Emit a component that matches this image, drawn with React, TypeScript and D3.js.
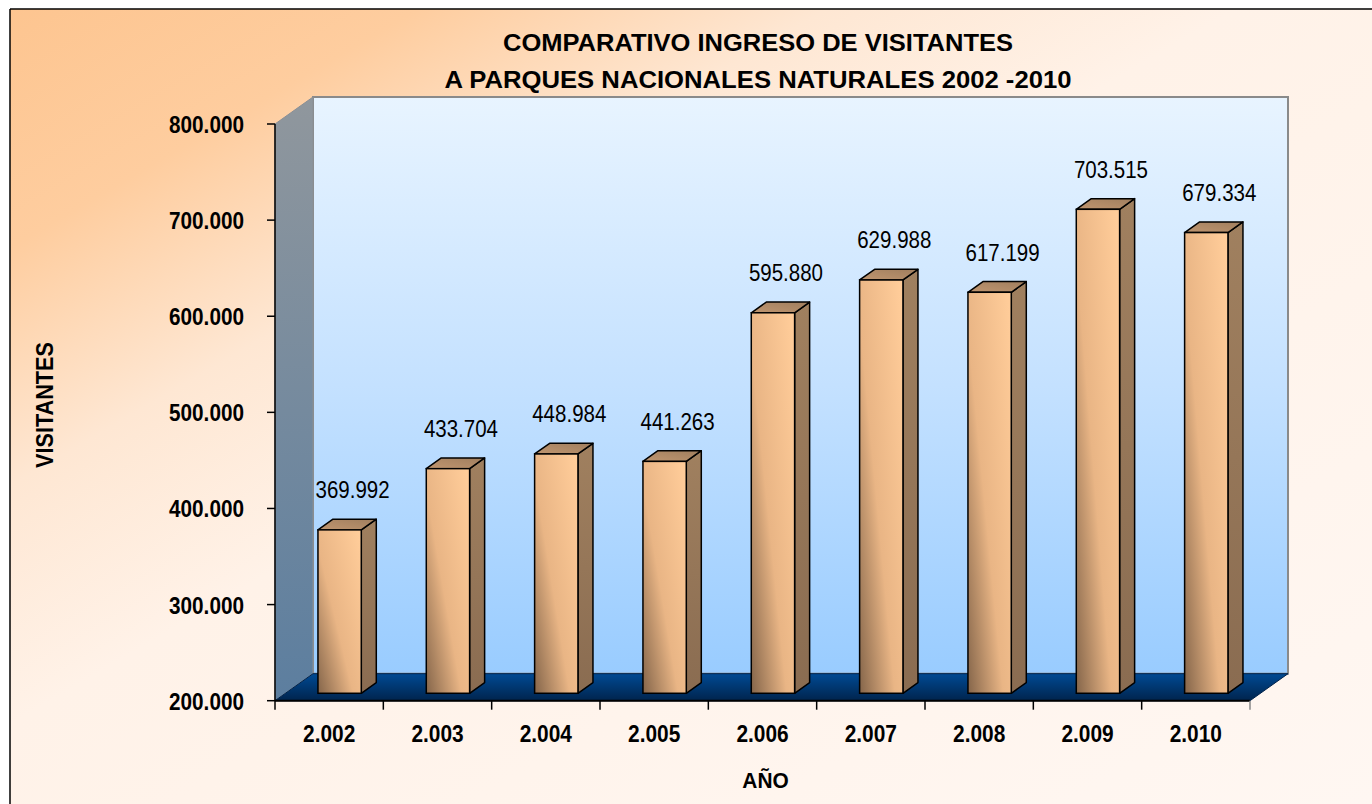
import React from "react";
import * as d3 from "d3";

const years = [2002, 2003, 2004, 2005, 2006, 2007, 2008, 2009, 2010];
const visitors = [369992, 433704, 448984, 441263, 595880, 629988, 617199, 703515, 679334];
const yTicks = [200000, 300000, 400000, 500000, 600000, 700000, 800000];
const titleLines = ["COMPARATIVO INGRESO DE VISITANTES", "A PARQUES NACIONALES NATURALES 2002 -2010"];
const yTitle = "VISITANTES";
const xTitle = "AÑO";

const W = 1372;
const H = 804;

const locale = d3.formatLocale({ decimal: ",", thousands: ".", grouping: [3], currency: ["", ""] });
const fmt = locale.format(",d");

export default function App() {
  // front plane
  const fx0 = 275, fx1 = 1250;
  const fyBot = 700.7, fyTop = 124;
  // depth vector
  const DX = 38, DY = 27;
  const tF = 0.275, tB = 0.67;

  const x = d3.scaleBand<number>().domain(years).range([fx0, fx1]).paddingInner(0.6).paddingOuter(0.3);
  const y = d3.scaleLinear().domain([200000, 800000]).range([fyBot, fyTop]);
  const step = x.step();
  const bw = x.bandwidth();

  const dxF = DX * tF, dyF = DY * tF;
  const ddx = DX * (tB - tF), ddy = DY * (tB - tF);

  const font = "'Liberation Sans', Arial, sans-serif";

  const sideWall = [
    [fx0, fyTop], [fx0 + DX, fyTop - DY], [fx0 + DX, fyBot - DY], [fx0, fyBot],
  ].map((p) => p.join(",")).join(" ");
  const floor = [
    [fx0, fyBot], [fx0 + DX, fyBot - DY], [fx1 + DX, fyBot - DY], [fx1, fyBot],
  ].map((p) => p.join(",")).join(" ");

  const boundaries = d3.range(years.length + 1).map((i) => fx0 + i * step);

  return (
    <svg width={W} height={H} style={{ position: "absolute", left: 0, top: 0 }} xmlns="http://www.w3.org/2000/svg">
      <defs>
        <linearGradient id="bg" x1="0" y1="0" x2="1" y2="1">
          <stop offset="0" stopColor="#fdc590" />
          <stop offset="0.15" stopColor="#fecd9f" />
          <stop offset="0.3" stopColor="#fee7d3" />
          <stop offset="0.45" stopColor="#fff2e8" />
          <stop offset="1" stopColor="#fff7f2" />
        </linearGradient>
        <linearGradient id="wall" x1="0" y1="0" x2="0" y2="1">
          <stop offset="0" stopColor="#e8f4ff" />
          <stop offset="0.5" stopColor="#c4e1ff" />
          <stop offset="1" stopColor="#99ccff" />
        </linearGradient>
        <linearGradient id="side" x1="0" y1="0" x2="0" y2="1">
          <stop offset="0" stopColor="#90979d" />
          <stop offset="1" stopColor="#5c7e9f" />
        </linearGradient>
        <linearGradient id="floor" x1="0" y1="0" x2="0" y2="1">
          <stop offset="0" stopColor="#004a94" />
          <stop offset="1" stopColor="#00244d" />
        </linearGradient>
        <linearGradient id="barFront" x1="0" y1="1" x2="1" y2="0.1">
          <stop offset="0" stopColor="#84654a" />
          <stop offset="0.45" stopColor="#e9b585" />
          <stop offset="1" stopColor="#ffcc99" />
        </linearGradient>
        <linearGradient id="barSide" x1="0" y1="0" x2="0" y2="1">
          <stop offset="0" stopColor="#a0805f" />
          <stop offset="1" stopColor="#8a6c51" />
        </linearGradient>
        <linearGradient id="barTop" x1="0" y1="1" x2="1" y2="0">
          <stop offset="0" stopColor="#c09670" />
          <stop offset="1" stopColor="#a07e5e" />
        </linearGradient>
      </defs>

      <rect x={0} y={0} width={W} height={H} fill="#ffffff" />
      <rect x={10} y={9} width={W - 10} height={H - 9} fill="url(#bg)" />
      <line x1={10} y1={9} x2={W} y2={9} stroke="#000" strokeWidth={1.5} />
      <line x1={10} y1={9} x2={10} y2={H} stroke="#000" strokeWidth={1.5} />

      {/* walls */}
      <rect x={fx0 + DX} y={fyTop - DY} width={fx1 - fx0} height={fyBot - fyTop} fill="url(#wall)" stroke="#8a8a8a" strokeWidth={2} />
      <polygon points={sideWall} fill="url(#side)" stroke="#8a8f95" strokeWidth={1} />
      <polygon points={floor} fill="url(#floor)" stroke="#00224a" strokeWidth={1} />

      {/* axes */}
      <line x1={fx0} y1={fyTop} x2={fx0} y2={fyBot} stroke="#000" strokeWidth={1.5} />
      <line x1={fx0} y1={fyBot} x2={fx1} y2={fyBot} stroke="#000" strokeWidth={2} />
      {yTicks.map((t) => (
        <g key={t}>
          <line x1={fx0 - 8} y1={y(t)} x2={fx0} y2={y(t)} stroke="#000" strokeWidth={1.5} />
          <text
            transform={`translate(244,${y(t) + 9}) scale(0.865,1)`}
            textAnchor="end"
            fontFamily={font}
            fontWeight="bold"
            fontSize={24}
            fill="#000"
          >
            {fmt(t)}
          </text>
        </g>
      ))}
      {boundaries.map((bx, i) => (
        <line key={i} x1={bx} y1={fyBot} x2={bx} y2={fyBot + 9} stroke={i === boundaries.length - 1 ? "#888" : "#000"} strokeWidth={1.5} />
      ))}
      {years.map((yr) => (
        <text
          key={yr}
          transform={`translate(${(x(yr) as number) + bw / 2},741.7) scale(0.87,1)`}
          textAnchor="middle"
          fontFamily={font}
          fontWeight="bold"
          fontSize={24}
          fill="#000"
        >
          {fmt(yr)}
        </text>
      ))}

      {/* bars */}
      {years.map((yr, i) => {
        const v = visitors[i];
        const x0 = (x(yr) as number) + dxF;
        const x1 = x0 + bw;
        const yTop = y(v) - dyF;
        const yBot = y(200000) - dyF;
        const side = [[x1, yTop], [x1 + ddx, yTop - ddy], [x1 + ddx, yBot - ddy], [x1, yBot]]
          .map((p) => p.join(",")).join(" ");
        const top = [[x0, yTop], [x0 + ddx, yTop - ddy], [x1 + ddx, yTop - ddy], [x1, yTop]]
          .map((p) => p.join(",")).join(" ");
        return (
          <g key={yr}>
            <polygon points={side} fill="url(#barSide)" stroke="#000" strokeWidth={1.5} strokeLinejoin="round" />
            <polygon points={top} fill="url(#barTop)" stroke="#000" strokeWidth={1.5} strokeLinejoin="round" />
            <rect x={x0} y={yTop} width={bw} height={yBot - yTop} fill="url(#barFront)" stroke="#000" strokeWidth={1.5} />
            <text
              transform={`translate(${x0 + bw / 2 + 13},${yTop - ddy - 21}) scale(0.855,1)`}
              textAnchor="middle"
              fontFamily={font}
              fontSize={24}
              fill="#000"
            >
              {fmt(v)}
            </text>
          </g>
        );
      })}

      {/* titles */}
      <text x={758} y={50.7} textAnchor="middle" fontFamily={font} fontWeight="bold" fontSize={24} textLength={510} lengthAdjust="spacingAndGlyphs" fill="#000">
        {titleLines[0]}
      </text>
      <text x={758} y={88.3} textAnchor="middle" fontFamily={font} fontWeight="bold" fontSize={24} textLength={627} lengthAdjust="spacingAndGlyphs" fill="#000">
        {titleLines[1]}
      </text>
      <text
        transform="translate(53,405) rotate(-90)"
        textAnchor="middle"
        fontFamily={font}
        fontWeight="bold"
        fontSize={24}
        textLength={126}
        lengthAdjust="spacingAndGlyphs"
        fill="#000"
      >
        {yTitle}
      </text>
      <text
        transform="translate(765.5,788.3) scale(0.95,1)"
        textAnchor="middle"
        fontFamily={font}
        fontWeight="bold"
        fontSize={22}
        fill="#000"
      >
        {xTitle}
      </text>
    </svg>
  );
}
